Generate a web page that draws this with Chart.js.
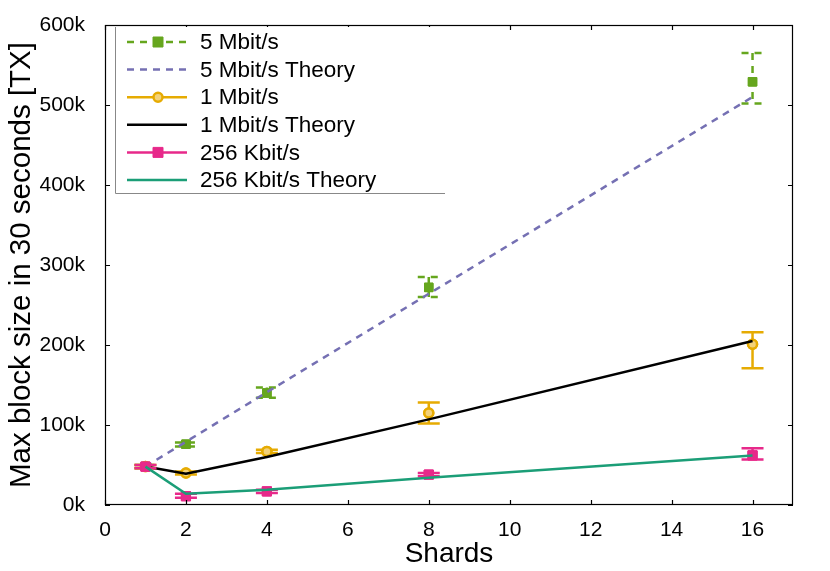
<!DOCTYPE html>
<html>
<head>
<meta charset="utf-8">
<script src="https://cdn.jsdelivr.net/npm/chart.js@4.4.1/dist/chart.umd.min.js"></script>
<style>
  html, body { margin: 0; padding: 0; background: #fff; }
  #wrap { width: 830px; height: 571px; }
</style>
</head>
<body>
<div id="wrap"><canvas id="c"></canvas></div>
<script>
// shards on the x axis
const shards = [1, 2, 4, 8, 16];
const xTicks = [0, 2, 4, 6, 8, 10, 12, 14, 16];

// measured values (mean, low, high) in TX
const mbit5 = [48000, 76000, 140000, 272000, 529000];
const mbit5Low = [46000, 73000, 134000, 260000, 502000];
const mbit5High = [50000, 78000, 147000, 285000, 565000];
const mbit5Theory = [48000, 79000, 141000, 264000, 510000];

const mbit1 = [48000, 40000, 67000, 115000, 201000];
const mbit1Low = [46000, 38000, 65000, 102000, 171000];
const mbit1High = [50000, 42000, 69000, 128000, 216000];
const mbit1Theory = [48000, 39000, 60000, 107000, 205000];

const kbit256 = [48000, 11000, 17000, 38000, 62000];
const kbit256Low = [46000, 9000, 15000, 36000, 57000];
const kbit256High = [50000, 14000, 19000, 40000, 71000];
const kbit256Theory = [48000, 14000, 19000, 34000, 62000];

const green = "#66a61e", purple = "#7570b3", orange = "#e6ab02";
const pink = "#e7298a", teal = "#1b9e77";
const FONT = "'Liberation Sans', Arial, sans-serif";

function pts(vals) {
    return shards.map((s, i) => ({ x: s, y: vals[i] }));
}

const datasets = [
    {
        label: "5 Mbit/s", data: pts(mbit5), showLine: false,
        pointStyle: "rect", pointRadius: 6, backgroundColor: green, borderColor: green, borderWidth: 1,
        errLow: mbit5Low, errHigh: mbit5High, errDash: [7, 6], order: 6,
    },
    {
        label: "5 Mbit/s Theory", data: pts(mbit5Theory), borderColor: purple,
        borderWidth: 2.5, borderDash: [7, 6], pointRadius: 0, order: 5,
    },
    {
        label: "1 Mbit/s", data: pts(mbit1), showLine: false,
        pointStyle: "circle", pointRadius: 4.5, backgroundColor: "#f3d27a", borderColor: orange, borderWidth: 2.5,
        errLow: mbit1Low, errHigh: mbit1High, errDash: [], order: 4,
    },
    {
        label: "1 Mbit/s Theory", data: pts(mbit1Theory), borderColor: "#000",
        borderWidth: 2.5, pointRadius: 0, order: 3,
    },
    {
        label: "256 Kbit/s", data: pts(kbit256), showLine: false,
        pointStyle: "rect", pointRadius: 6.5, backgroundColor: pink, borderColor: pink, borderWidth: 1,
        errLow: kbit256Low, errHigh: kbit256High, errDash: [], order: 2,
    },
    {
        label: "256 Kbit/s Theory", data: pts(kbit256Theory), borderColor: teal,
        borderWidth: 2.5, pointRadius: 0, order: 1,
    },
];

const errorBars = {
    id: "errorBars",
    afterDatasetDraw(chart, args) {
        const ds = chart.data.datasets[args.index];
        if (!ds.errLow) return;
        const ctx = chart.ctx;
        const xs = chart.scales.x, ys = chart.scales.y;
        ctx.save();
        ctx.strokeStyle = ds.borderColor;
        ctx.lineWidth = 2.5;
        ctx.setLineDash(ds.errDash);
        shards.forEach((s, i) => {
            const px = xs.getPixelForValue(s);
            const lo = ys.getPixelForValue(ds.errLow[i]);
            const hi = ys.getPixelForValue(ds.errHigh[i]);
            ctx.beginPath();
            ctx.moveTo(px, hi); ctx.lineTo(px, lo);
            ctx.moveTo(px - 11, hi); ctx.lineTo(px + 11, hi);
            ctx.moveTo(px - 11, lo); ctx.lineTo(px + 11, lo);
            ctx.stroke();
        });
        ctx.restore();
        // redraw the points on top of the bars
        chart.getDatasetMeta(args.index).data.forEach((p) => p.draw(ctx, chart.chartArea));
    },
};

const frame = {
    id: "frame",
    afterDraw(chart) {
        const ctx = chart.ctx;
        const a = chart.chartArea;
        const xs = chart.scales.x, ys = chart.scales.y;
        ctx.save();
        ctx.strokeStyle = "#000";
        ctx.lineWidth = 1.2;
        ctx.strokeRect(a.left + 0.5, a.top + 0.5, a.right - a.left - 1, a.bottom - a.top - 1);
        ctx.beginPath();
        xs.ticks.forEach((t) => {
            const px = Math.round(xs.getPixelForValue(t.value)) + 0.5;
            ctx.moveTo(px, a.bottom); ctx.lineTo(px, a.bottom - 5);
            ctx.moveTo(px, a.top); ctx.lineTo(px, a.top + 5);
        });
        ys.ticks.forEach((t) => {
            const py = Math.round(ys.getPixelForValue(t.value)) + 0.5;
            ctx.moveTo(a.left, py); ctx.lineTo(a.left + 5, py);
            ctx.moveTo(a.right, py); ctx.lineTo(a.right - 5, py);
        });
        ctx.stroke();

        // legend box in the top left corner
        const bx = 115, by = 27, bw = 330, bh = 166;
        ctx.fillStyle = "#fff";
        ctx.fillRect(bx, by, bw, bh);
        ctx.strokeStyle = "#888";
        ctx.lineWidth = 1;
        ctx.beginPath();
        ctx.moveTo(bx + 0.5, by); ctx.lineTo(bx + 0.5, by + bh + 0.5); ctx.lineTo(bx + bw, by + bh + 0.5);
        ctx.stroke();
        ctx.font = "22.5px " + FONT;
        ctx.textBaseline = "middle";
        chart.data.datasets.forEach((ds, i) => {
            const cy = 42 + i * 27.6;
            ctx.save();
            ctx.strokeStyle = ds.borderColor;
            ctx.lineWidth = 2.5;
            ctx.setLineDash(ds.errLow ? ds.errDash : (ds.borderDash || []));
            ctx.beginPath();
            ctx.moveTo(127, cy); ctx.lineTo(187, cy);
            ctx.stroke();
            ctx.restore();
            if (ds.errLow) {
                ctx.save();
                ctx.fillStyle = ds.backgroundColor;
                ctx.strokeStyle = ds.borderColor;
                ctx.lineWidth = ds.borderWidth;
                ctx.beginPath();
                if (ds.pointStyle === "circle") {
                    ctx.arc(158, cy, 4.5, 0, Math.PI * 2);
                } else {
                    ctx.rect(153, cy - 5, 10, 10);
                }
                ctx.fill(); ctx.stroke();
                ctx.restore();
            }
            ctx.fillStyle = "#000";
            ctx.fillText(ds.label, 200, cy + 1);
        });
        ctx.restore();
    },
};

new Chart(document.getElementById("c"), {
    type: "line",
    data: { datasets: datasets },
    plugins: [errorBars, frame],
    options: {
        responsive: true,
        maintainAspectRatio: false,
        animation: false,
        layout: { padding: { top: 25, right: 37, left: 0, bottom: 0 } },
        plugins: { legend: { display: false }, tooltip: { enabled: false } },
        scales: {
            x: {
                type: "linear", min: 0, max: 17,
                afterBuildTicks: (s) => { s.ticks = xTicks.map((v) => ({ value: v })); },
                ticks: {
                    color: "#000", padding: 5,
                    font: { family: FONT, size: 21 },
                },
                grid: { display: false },
                border: { display: false },
                title: {
                    display: true, text: "Shards", color: "#000", padding: { top: 0, bottom: 0 },
                    font: { family: FONT, size: 28 },
                },
                afterFit: (s) => { s.height = 66; },
            },
            y: {
                min: 0, max: 600000,
                ticks: {
                    stepSize: 100000, color: "#000", padding: 12,
                    font: { family: FONT, size: 21 },
                    callback: (v) => v / 1000 + "k",
                },
                grid: { display: false },
                border: { display: false },
                title: {
                    display: true, text: "Max block size in 30 seconds [TX]", color: "#000",
                    padding: { bottom: 2 },
                    font: { family: FONT, size: 29.5 },
                },
                afterFit: (s) => { s.width = 105; },
            },
        },
    },
});
</script>
</body>
</html>
